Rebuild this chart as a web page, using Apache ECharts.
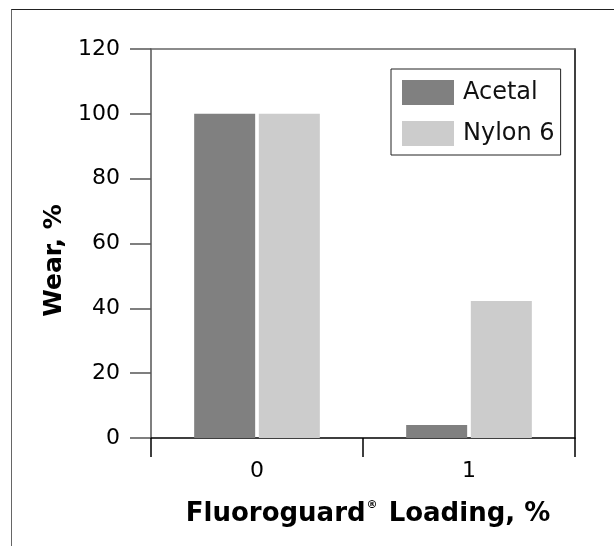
<!DOCTYPE html>
<html>
<head>
<meta charset="utf-8">
<script src="https://cdn.jsdelivr.net/npm/echarts@6/dist/echarts.min.js"></script>
<style>
html,body{margin:0;padding:0;background:#fff;}
#chart{width:614px;height:546px;}
#frame{position:absolute;left:11px;top:9px;right:0;bottom:0;border-top:1.5px solid #222;border-left:1.5px solid #666;pointer-events:none;}
</style>
</head>
<body>
<div id="chart"></div>
<div id="frame"></div>
<script>
const categories = ['0', '1'];
const acetal = [100, 4];
const nylon6 = [100, 42.3];
const yTicks = {min: 0, max: 120, interval: 20};

const FONT = 'DejaVu Sans';
const chart = echarts.init(document.getElementById('chart'), null, {renderer: 'canvas'});
chart.setOption({
  animation: false,
  backgroundColor: 'transparent',
  grid: {left: 151, top: 49, right: 39, bottom: 108, containLabel: false},
  legend: {
    orient: 'vertical',
    left: 391, top: 69,
    itemWidth: 52, itemHeight: 25, itemGap: 16,
    padding: [11, 6, 9, 11],
    borderColor: '#222', borderWidth: 1,
    icon: 'rect',
    textStyle: {fontFamily: FONT, fontSize: 24, color: '#111', padding: [0, 0, 0, 4]},
    data: ['Acetal', 'Nylon 6']
  },
  xAxis: [{
    type: 'category', data: categories, position: 'bottom',
    axisLine: {show: true, lineStyle: {color: '#000', width: 1.5}},
    axisTick: {show: true, inside: false, length: 19, lineStyle: {color: '#000', width: 1.5}},
    axisLabel: {margin: 22, fontFamily: FONT, fontSize: 22, color: '#000'},
    name: 'Fluoroguard{sup|®} Loading, %',
    nameLocation: 'middle', nameGap: 62,
    nameTextStyle: {fontFamily: FONT, fontSize: 26, fontWeight: 'bold', color: '#000',
      padding: [0, 0, 0, 10],
      rich: {sup: {fontFamily: FONT, fontSize: 11, fontWeight: 'bold', color: '#000', padding: [0, 2, 17, 1]}}}
  }, {
    type: 'category', data: categories, position: 'top', show: true,
    axisLine: {show: true, onZero: false, lineStyle: {color: '#666', width: 1.5}},
    axisTick: {show: false}, axisLabel: {show: false}, splitLine: {show: false}
  }],
  yAxis: [{
    type: 'value', min: yTicks.min, max: yTicks.max, interval: yTicks.interval, position: 'left',
    axisLine: {show: true, lineStyle: {color: '#555', width: 1.5}},
    axisTick: {show: true, inside: false, length: 21, lineStyle: {color: '#555', width: 1.5}},
    axisLabel: {margin: 31, fontFamily: FONT, fontSize: 22, color: '#000'},
    splitLine: {show: false},
    name: 'Wear, %', nameLocation: 'middle', nameGap: 84, nameRotate: 90,
    nameTextStyle: {fontFamily: FONT, fontSize: 25, fontWeight: 'bold', color: '#000', padding: [0, 34, 0, 0]}
  }, {
    type: 'value', min: yTicks.min, max: yTicks.max, interval: yTicks.interval, position: 'right',
    axisLine: {show: true, lineStyle: {color: '#000', width: 1.5}},
    axisTick: {show: false}, axisLabel: {show: false}, splitLine: {show: false}
  }],
  series: [{
    name: 'Acetal', type: 'bar', data: acetal, barWidth: 61, barGap: '6%',
    itemStyle: {color: '#808080'}
  }, {
    name: 'Nylon 6', type: 'bar', data: nylon6, barWidth: 61, barGap: '6%',
    itemStyle: {color: '#cccccc'}
  }]
});
</script>
</body>
</html>
